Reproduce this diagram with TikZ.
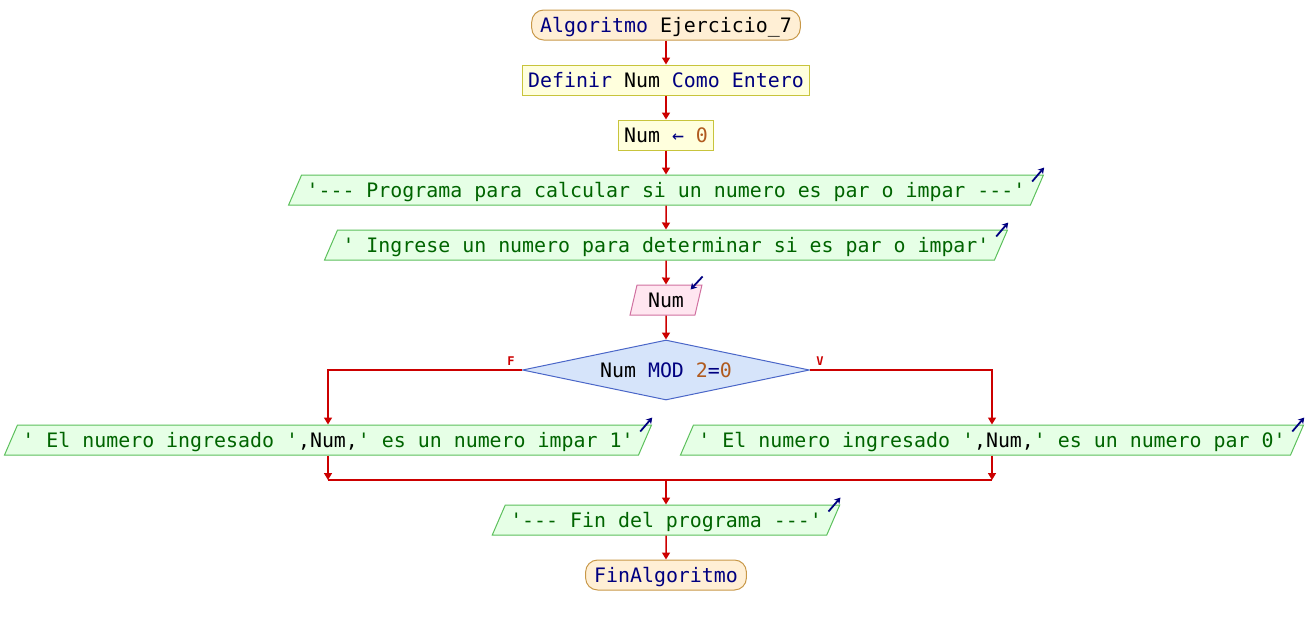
\documentclass[tikz,border=0pt]{standalone}
\usepackage{fontspec}
\setmonofont{DejaVu Sans Mono}
\usepackage{xcolor}
\usetikzlibrary{shapes.geometric,arrows.meta,calc}

\definecolor{flowred}{HTML}{CC0000}
\definecolor{kwcol}{HTML}{000080}
\definecolor{strcol}{HTML}{006400}
\definecolor{numcol}{HTML}{B05A1E}
\definecolor{termfill}{HTML}{FFEFD5}
\definecolor{termline}{HTML}{C89848}
\definecolor{procfill}{HTML}{FFFFDD}
\definecolor{procline}{HTML}{C8C43C}
\definecolor{outfill}{HTML}{E6FFE6}
\definecolor{outborder}{HTML}{5CC05C}
\definecolor{infill}{HTML}{FFE6F0}
\definecolor{inborder}{HTML}{D070A0}
\definecolor{condfill}{HTML}{D6E4FA}
\definecolor{condline}{HTML}{4A66C8}

\newcommand{\code}{\ttfamily\fontsize{19.9pt}{24pt}\selectfont}
\newcommand{\codesmall}{\ttfamily\bfseries\fontsize{12pt}{14pt}\selectfont}
\newcommand{\kwd}[1]{{\color{kwcol}#1}}
\newcommand{\nmb}[1]{{\color{numcol}#1}}
\newcommand{\idf}[1]{{\color{black}#1}}

\begin{document}
\begin{tikzpicture}[x=1pt,y=-1pt,
			box/.style={line width=1pt, text height=17pt, text depth=3pt, inner ysep=5pt, font=\code},
			term/.style={box, rectangle, rounded corners=12pt, draw=termline, fill=termfill, inner xsep=8.5pt},
			proc/.style={box, rectangle, draw=procline, fill=procfill, inner xsep=6pt},
			outp/.style={box, trapezium, trapezium left angle=66.6, trapezium right angle=113.4, draw=outborder, fill=outfill, inner xsep=5pt, text=strcol},
			inp/.style={box, trapezium, trapezium left angle=76.9, trapezium right angle=103.1, draw=inborder, fill=infill, inner xsep=11pt},
			cond/.style={diamond, aspect=4.78, draw=condline, fill=condfill, line width=1pt, minimum width=287pt, minimum height=60pt, inner sep=0pt, font=\code},
			flow/.style={draw=flowred, line width=1.5pt, -{Triangle[length=7pt,width=8pt]}},
			link/.style={draw=flowred, line width=1.5pt},
			icon/.style={draw=kwcol, line width=1.8pt, -{Stealth[length=6pt,width=7pt]}},
			branchlab/.style={font=\codesmall, text=flowred, inner sep=1pt}
				]
			\useasboundingbox (0,0) rectangle (1308,625);
			\def\cx{666}

			\node[term] at (\cx,25) (start) {\kwd{Algoritmo} Ejercicio\_7};
			\node[proc] at (\cx,80) (def) {\kwd{Definir} Num \kwd{Como Entero}};
			\node[proc] at (\cx,135) (ini) {Num \kwd{←} \nmb{0}};
			\node[outp] at (\cx,190) (msg1) {'--- Programa para calcular si un numero es par o impar ---'};
			\node[outp] at (\cx,245) (msg2) {' Ingrese un numero para determinar si es par o impar'};
			\node[inp] at (\cx,300) (read) {Num};
			\node[cond] at (\cx,370) (test) {Num \kwd{MOD} \nmb{2}\kwd{=}\nmb{0}};

			\node[branchlab,above] at ([xshift=-11pt,yshift=3pt]test.west) (lf) {F};
			\node[branchlab,above] at ([xshift=10pt,yshift=3pt]test.east) (lv) {V};

			\node[outp] at (328,440) (odd) {' El numero ingresado '\idf{,Num,}' es un numero impar 1'};
			\node[outp] at (992,440) (even) {' El numero ingresado '\idf{,Num,}' es un numero par 0'};
			\coordinate (join) at (\cx,480);

			\node[outp] at (\cx,520) (bye) {'--- Fin del programa ---'};
			\node[term] at (\cx,575) (stop) {\kwd{FinAlgoritmo}};

			%main line
			\draw[flow] (start) -- (def);
			\draw[flow] (def) -- (ini);
			\draw[flow] (ini) -- (msg1);
			\draw[flow] (msg1) -- (msg2);
			\draw[flow] (msg2) -- (read);
			\draw[flow] (read) -- (test);
			%branches
			\draw[flow] (test.west) -| (odd);
			\draw[flow] (test.east) -| (even);
			\draw[flow] (odd) -- (odd |- join);
			\draw[flow] (even) -- (even |- join);
			\draw[link] (odd |- join) -- (even |- join);
			\draw[flow] (join) -- (bye);
			\draw[flow] (bye) -- (stop);

			%output and input marks
			\foreach \n in {msg1,msg2,odd,even,bye} {
				\draw[icon] ([xshift=-12pt,yshift=-7pt]\n.top right corner) -- ++(12,-14);
			}
			\draw[icon] ([yshift=8pt]read.top right corner) -- ++(-12,13);
	\end{tikzpicture}
\end{document}
